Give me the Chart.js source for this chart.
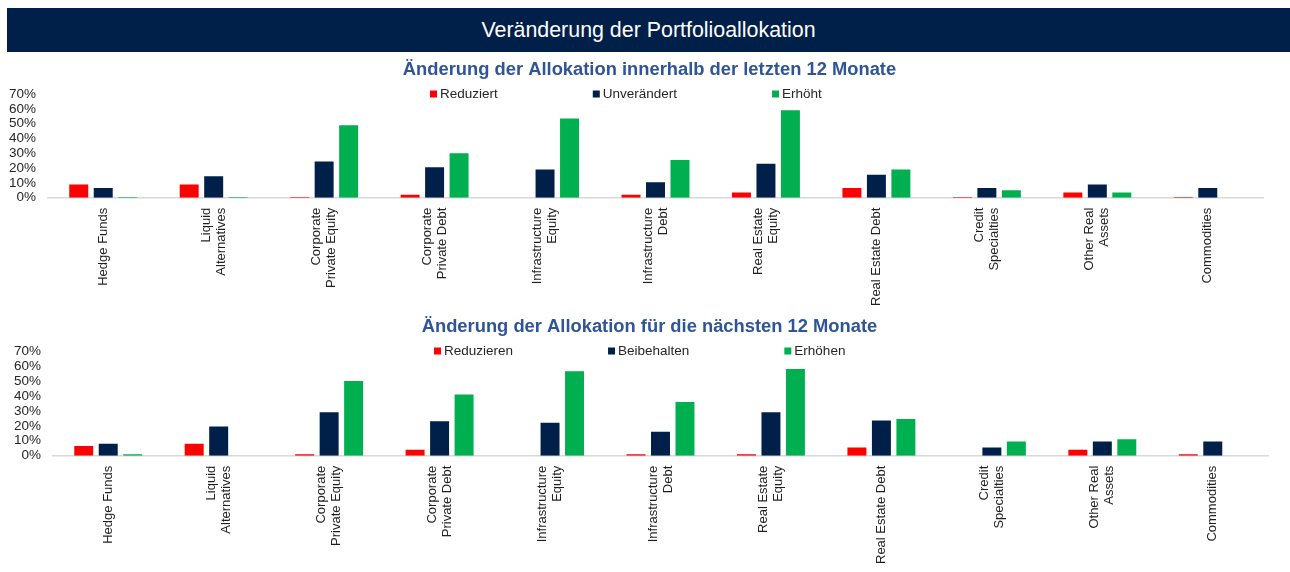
<!DOCTYPE html>
<html lang="de">
<head>
<meta charset="utf-8">
<title>Veränderung der Portfolioallokation</title>
<script src="https://cdn.jsdelivr.net/npm/chart.js@4.4.1/dist/chart.umd.min.js"></script>
<style>
  body { margin: 0; width: 1290px; height: 572px; background: #fff; position: relative; overflow: hidden; font-family: "Liberation Sans", Arial, sans-serif; }
  .header { position: absolute; left: 7px; top: 8px; width: 1283px; height: 44px; background: #00204a; color: #fff; font-size: 21.4px; line-height: 44px; text-align: center; }
  .box { position: absolute; left: 9px; width: 1281px; }
</style>
</head>
<body>
<div class="header">Veränderung der Portfolioallokation</div>
<div class="box" style="top:57px;height:259px"><canvas id="chartPast"></canvas></div>
<div class="box" style="top:314px;height:260px"><canvas id="chartNext"></canvas></div>
<script>
const FONT = '"Liberation Sans", Arial, sans-serif';

const categories = [
  ['Hedge Funds'],
  ['Liquid', 'Alternatives'],
  ['Corporate', 'Private Equity'],
  ['Corporate', 'Private Debt'],
  ['Infrastructure', 'Equity'],
  ['Infrastructure', 'Debt'],
  ['Real Estate', 'Equity'],
  ['Real Estate Debt'],
  ['Credit', 'Specialties'],
  ['Other Real', 'Assets'],
  ['Commodities']
];
const yTicks = [0, 10, 20, 30, 40, 50, 60, 70];
const barColors = ['#FF0000', '#00204A', '#00B050'];

// letzte 12 Monate (in %)
const pastNames = ['Reduziert', 'Unverändert', 'Erhöht'];
const pastReduziert    = [9, 9, 0.5, 2, 0, 2, 3.5, 6.5, 0.5, 3.5, 0.5];
const pastUnveraendert = [6.5, 14.5, 24.5, 20.5, 19, 10.5, 23, 15.5, 6.5, 9, 6.5];
const pastErhoeht      = [0.5, 0.5, 49, 30, 53.5, 25.5, 59, 19, 5, 3.5, 0];

// nächste 12 Monate (in %)
const nextNames = ['Reduzieren', 'Beibehalten', 'Erhöhen'];
const nextReduzieren  = [6.5, 8, 1, 4, 0, 1, 1, 5.5, 0, 4, 1];
const nextBeibehalten = [8, 19.5, 29, 23, 22, 16, 29, 23.5, 5.5, 9.5, 9.5];
const nextErhoehen    = [1, 0, 50, 41, 56.5, 36, 58, 24.5, 9.5, 11, 0];

// single-line labels get an empty first line so every label sits centred on its category
const lineH = 15;
const tickLabels = categories.map(c => c.length > 1 ? c : ['', c[0]]);

// legend drawn inside the plot area, like in the Excel original
const innerLegend = {
  id: 'innerLegend',
  afterDraw(chart, args, opts) {
    const c = chart.ctx;
    c.save();
    c.font = '13.5px ' + FONT;
    c.textBaseline = 'middle';
    c.textAlign = 'left';
    let x = opts.x;
    chart.data.datasets.forEach(ds => {
      c.fillStyle = ds.backgroundColor;
      c.fillRect(x, opts.y - 3.5, 7, 7);
      c.fillStyle = '#262626';
      c.fillText(ds.label, x + 10, opts.y);
      x += 10 + c.measureText(ds.label).width + opts.gap;
    });
    c.restore();
  }
};

function makeChart(id, title, names, series, pad, legendX) {
  return new Chart(document.getElementById(id), {
    type: 'bar',
    data: {
      labels: tickLabels,
      datasets: names.map((name, i) => ({
        label: name,
        data: series[i],
        backgroundColor: barColors[i],
        borderWidth: 0,
        categoryPercentage: 0.665,
        barPercentage: 0.775
      }))
    },
    options: {
      responsive: true,
      maintainAspectRatio: false,
      animation: false,
      layout: { padding: 0 },
      plugins: {
        legend: { display: false },
        tooltip: { enabled: false },
        title: {
          display: true,
          text: title,
          color: '#2F5597',
          font: { family: FONT, size: 18.35, weight: 'bold', lineHeight: 1.2 },
          padding: { top: 2, bottom: 13 }
        },
        innerLegend: { x: legendX, y: 37, gap: 95 }
      },
      scales: {
        x: {
          grid: { display: false, drawTicks: false },
          border: { color: '#D9D9D9', width: 1.5 },
          ticks: {
            autoSkip: false,
            minRotation: 90,
            maxRotation: 90,
            padding: 10,
            labelOffset: -lineH / 2,
            color: '#1f1f1f',
            font: (c) => {
              const l = tickLabels[c.index];
              return { family: FONT, size: 13, lineHeight: (l && l[0] === '' ? lineH / 2 : lineH) + 'px' };
            }
          }
        },
        y: {
          min: 0,
          max: 70,
          afterFit: (s) => { s.width = pad.axis; },
          afterBuildTicks: (s) => { s.ticks = yTicks.map(v => ({ value: v })); },
          grid: { display: false, drawTicks: false },
          border: { display: false },
          ticks: {
            autoSkip: false,
            padding: 12,
            color: '#262626',
            font: { family: FONT, size: 13.5 },
            callback: (v) => v + '%'
          }
        },
        // empty axis on the right only keeps the plot clear of the right edge
        yRight: {
          position: 'right',
          afterFit: (s) => { s.width = pad.right; },
          grid: { display: false, drawTicks: false },
          border: { display: false },
          ticks: { display: false }
        }
      }
    },
    plugins: [innerLegend]
  });
}

makeChart('chartPast', 'Änderung der Allokation innerhalb der letzten 12 Monate', pastNames,
  [pastReduziert, pastUnveraendert, pastErhoeht], { axis: 39, right: 27 }, 421);

makeChart('chartNext', 'Änderung der Allokation für die nächsten 12 Monate', nextNames,
  [nextReduzieren, nextBeibehalten, nextErhoehen], { axis: 44, right: 22 }, 425);
</script>
</body>
</html>
